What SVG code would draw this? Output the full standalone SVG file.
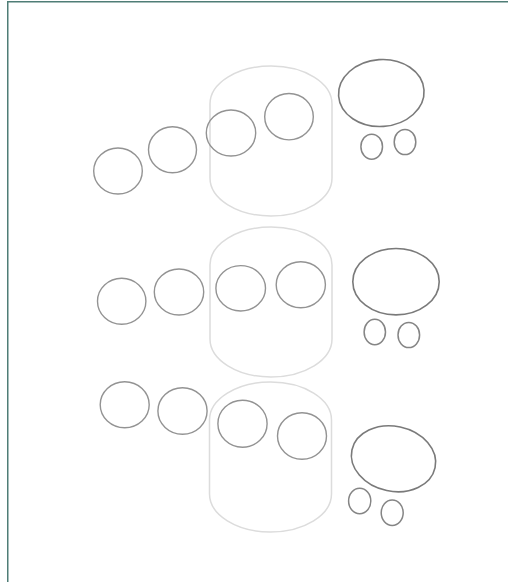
<svg xmlns="http://www.w3.org/2000/svg" width="508" height="582" viewBox="0 0 508 582">
<style>
.frame{fill:none;stroke:#4f7d76;stroke-width:1.5}
.cyl{fill:none;stroke:#dcdcdc;stroke-width:1.5}
.c{fill:none;stroke:#939393;stroke-width:1.4}
.big{fill:none;stroke:#7a7a7a;stroke-width:1.6}
.s{fill:none;stroke:#858585;stroke-width:1.5}
</style>
<rect width="508" height="582" fill="#ffffff"/>
<path class="frame" d="M7.75,582 V1.75 H508"/>
<g id="row1">
<rect id="cyl1" class="cyl" x="210" y="66" width="122" height="150" rx="61" ry="38"/>
<ellipse id="r1c1" class="c" cx="118" cy="171" rx="24.3" ry="23"/>
<ellipse id="r1c2" class="c" cx="172.5" cy="149.7" rx="24" ry="23"/>
<ellipse id="r1c3" class="c" cx="231" cy="133" rx="24.7" ry="23"/>
<ellipse id="r1c4" class="c" cx="289" cy="116.7" rx="24.3" ry="23.2"/>
<ellipse id="r1big" class="big" cx="381.3" cy="93" rx="42.8" ry="33.5" transform="rotate(-4 381.3 93)"/>
<ellipse id="r1s1" class="s" cx="371.7" cy="146.7" rx="10.8" ry="12.5"/>
<ellipse id="r1s2" class="s" cx="405" cy="142" rx="10.8" ry="12.6"/>
</g>
<g id="row2">
<rect id="cyl2" class="cyl" x="210" y="227" width="122" height="150" rx="61" ry="38"/>
<ellipse id="r2c1" class="c" cx="121.7" cy="301.3" rx="24.2" ry="23"/>
<ellipse id="r2c2" class="c" cx="179" cy="292" rx="24.7" ry="23"/>
<ellipse id="r2c3" class="c" cx="240.7" cy="288.3" rx="24.8" ry="22.7"/>
<ellipse id="r2c4" class="c" cx="300.8" cy="284.7" rx="24.6" ry="23"/>
<ellipse id="r2big" class="big" cx="396" cy="281.7" rx="43.2" ry="33.2"/>
<ellipse id="r2s1" class="s" cx="374.8" cy="332" rx="10.7" ry="12.8"/>
<ellipse id="r2s2" class="s" cx="408.8" cy="335" rx="10.8" ry="12.6"/>
</g>
<g id="row3">
<rect id="cyl3" class="cyl" x="209.5" y="382" width="122" height="150" rx="61" ry="38"/>
<ellipse id="r3c1" class="c" cx="124.7" cy="404.7" rx="24.5" ry="23"/>
<ellipse id="r3c2" class="c" cx="182.5" cy="411" rx="24.6" ry="23.2"/>
<ellipse id="r3c3" class="c" cx="242.5" cy="423.7" rx="24.6" ry="23.5"/>
<ellipse id="r3c4" class="c" cx="302" cy="436" rx="24.5" ry="23.2"/>
<ellipse id="r3big" class="big" cx="393.5" cy="458.8" rx="42.5" ry="32.5" transform="rotate(12 393.5 458.8)"/>
<ellipse id="r3s1" class="s" cx="359.7" cy="501" rx="11.1" ry="12.7"/>
<ellipse id="r3s2" class="s" cx="392.2" cy="512.8" rx="11" ry="12.7"/>
</g>
<g id="connectors"/>
</svg>
